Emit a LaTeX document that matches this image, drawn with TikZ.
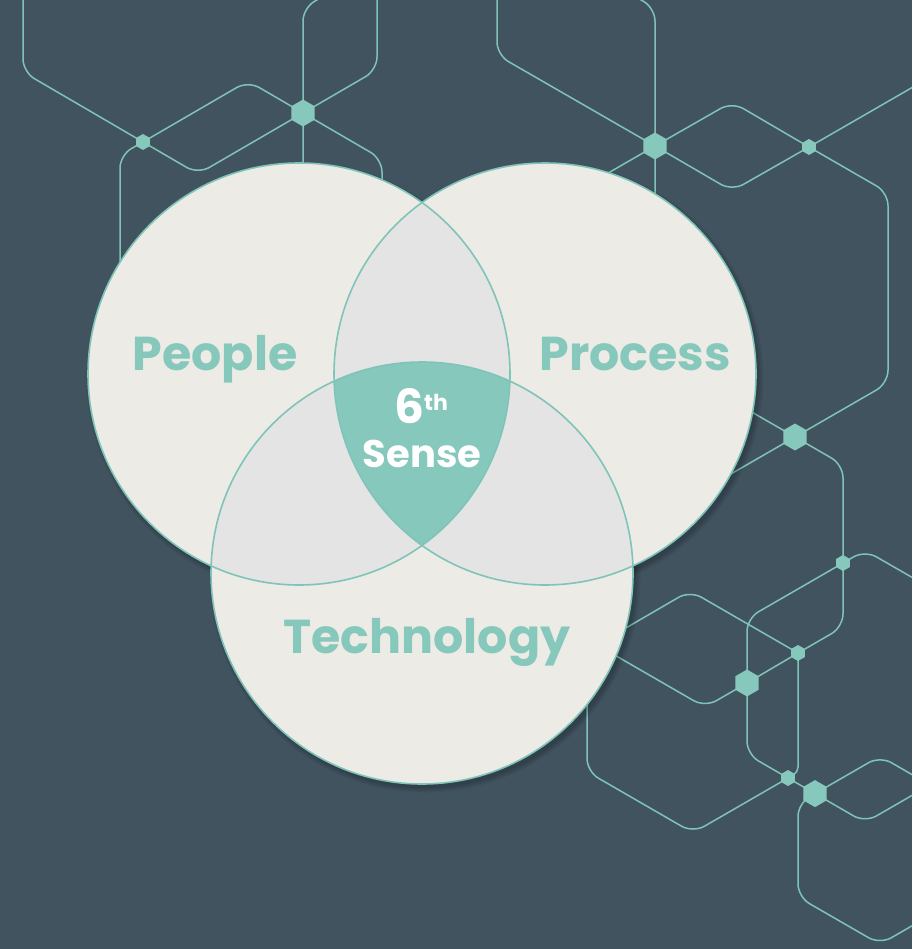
\documentclass[tikz,border=0pt]{standalone}
\usepackage{fontspec}
\setmainfont{Poppins}
\usetikzlibrary{shapes.geometric}
\definecolor{bgcol}{HTML}{41535F}
\definecolor{lineteal}{HTML}{7FC4B8}
\definecolor{hexfill}{HTML}{86C8BC}
\definecolor{cream}{HTML}{ECEBE5}
\definecolor{lenscol}{HTML}{E4E4E4}
\begin{document}
\begin{tikzpicture}[x=1pt,y=-1pt,
  net/.style={draw=lineteal,line width=1.5pt,rounded corners=13pt},
  hexnode/.style={regular polygon,regular polygon sides=6,shape border rotate=30,fill=hexfill,draw=none,inner sep=0pt},
  bighex/.style={hexnode,minimum size=27pt},
  smallhex/.style={hexnode,minimum size=16pt},
  ring/.style={draw=lineteal,line width=1.6pt},
  lbl/.style={text=hexfill,font=\bfseries\fontsize{47.5}{50}\selectfont,inner sep=0pt,anchor=base},
  wlbl/.style={text=white,inner sep=0pt,anchor=base}
]
\useasboundingbox (0,0) rectangle (912,949);
\clip (0,0) rectangle (912,949);
\fill[bgcol] (0,0) rectangle (912,949);

% hex node positions
\coordinate (h1) at (143,142);
\coordinate (h2) at (303,113);
\coordinate (h3) at (655,146);
\coordinate (h4) at (809,147);
\coordinate (h5) at (795,437);
\coordinate (h6) at (843,563);
\coordinate (h7) at (798,653);
\coordinate (h8) at (747,683);
\coordinate (h9) at (788,778);
\coordinate (h10) at (815,793.6);

% network lines
\draw[net] (23,-30) -- (23,72) -- (h1) -- (198,174) -- (h2) -- (377,70) -- (377,-30);
\draw[net] (120,320) -- (120,155) -- (h1) -- (248,81) -- (h2) -- (382,159) -- (382,320);
\draw[net] (303,320) -- (303,8) -- (333,-9.3);
\draw[net] (497,-30) -- (497,55) -- (h3) -- (732,190.9) -- (h4) -- (912,87.6) -- (960,59.9);
\draw[net] (500,235.5) -- (h3) -- (732,102) -- (h4) -- (888,192.6) -- (888,383.3) -- (h5) -- (700,491.8);
\draw[net] (655,320) -- (655,8) -- (625,-9.3);
\draw[net] (700,382.2) -- (h5) -- (843,464.7) -- (h6) -- (843,627) -- (h7) -- (h8) -- (705,707.2) -- (600,646.6);
\draw[net] (960,605) -- (865,550.3) -- (h6) -- (747,618.4) -- (h8) -- (747,754.3) -- (h9) -- (h10) -- (865,822.5) -- (960,767.7);
\draw[net] (600,643) -- (690,590.7) -- (h7);
\draw[net,rounded corners=5pt] (h7) -- (798,772.2) -- (h9);
\draw[net] (h9) -- (693,832.8) -- (587,771.6) -- (587,690);
\draw[net] (960,802.3) -- (880,756.1) -- (h10) -- (798,803.4) -- (798,897) -- (880,944.3) -- (960,898.1);

% hex nodes
\node[smallhex] (n1) at (h1) {};
\node[bighex] (n2) at (h2) {};
\node[bighex] (n3) at (h3) {};
\node[smallhex] (n4) at (h4) {};
\node[bighex] (n5) at (h5) {};
\node[smallhex] (n6) at (h6) {};
\node[smallhex] (n7) at (h7) {};
\node[bighex] (n8) at (h8) {};
\node[smallhex] (n9) at (h9) {};
\node[bighex] (n10) at (h10) {};

% circles
\coordinate (c1) at (299,374);
\coordinate (c2) at (545,374);
\coordinate (c3) at (422,573);
\foreach \k/\o in {1/0.05,2/0.05,3/0.06,4/0.07} {
  \foreach \c in {c1,c2,c3} {
    \fill[black,opacity=\o] ([shift={(3,4)}]\c) circle ({211+6-1.5*\k pt});
  }
}
\foreach \c in {c1,c2,c3} { \fill[cream] (\c) circle (211pt); }
\begin{scope}
  \clip (c1) circle (211pt);
  \fill[lenscol] (c2) circle (211pt);
  \fill[lenscol] (c3) circle (211pt);
\end{scope}
\begin{scope}
  \clip (c2) circle (211pt);
  \fill[lenscol] (c3) circle (211pt);
\end{scope}
\begin{scope}
  \clip (c1) circle (211pt);
  \clip (c2) circle (211pt);
  \fill[hexfill] (c3) circle (211pt);
\end{scope}
\foreach \c in {c1,c2,c3} { \draw[ring] (\c) circle (211pt); }

% labels
\node[lbl] (people) at (215,370) {People};
\node[lbl] (process) at (635,370) {Process};
\node[lbl] (tech) at (427,653) {Technology};
\node[wlbl] (six) at (421,423) {\bfseries\fontsize{47}{47}\selectfont 6\raisebox{13pt}{\fontsize{22}{22}\selectfont th}};
\node[wlbl] (sense) at (422,467) {\bfseries\fontsize{38.5}{42}\selectfont Sense};
\end{tikzpicture}
\end{document}
